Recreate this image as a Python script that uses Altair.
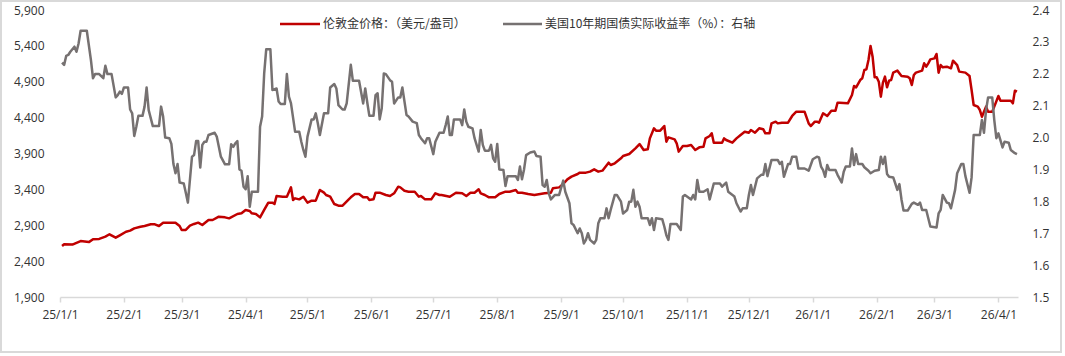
import altair as alt
import pandas as pd

# ---------------- data ----------------
GOLD = [
    ("2025-01-02", 2611), ("2025-01-03", 2635), ("2025-01-07", 2630), ("2025-01-11", 2680), ("2025-01-15", 2665),
    ("2025-01-17", 2704), ("2025-01-20", 2710), ("2025-01-23", 2741), ("2025-01-25", 2774), ("2025-01-28", 2727),
    ("2025-01-30", 2760),
    ("2025-02-02", 2810), ("2025-02-04", 2825), ("2025-02-06", 2857), ("2025-02-09", 2880), ("2025-02-11", 2890),
    ("2025-02-14", 2913), ("2025-02-16", 2913), ("2025-02-18", 2890), ("2025-02-20", 2936), ("2025-02-26", 2936),
    ("2025-02-28", 2890),
    ("2025-03-01", 2834), ("2025-03-03", 2834), ("2025-03-05", 2894), ("2025-03-07", 2918), ("2025-03-09", 2936),
    ("2025-03-11", 2903), ("2025-03-14", 2973), ("2025-03-16", 2973), ("2025-03-19", 3020), ("2025-03-22", 3010),
    ("2025-03-24", 2996), ("2025-03-28", 3057), ("2025-03-30", 3066),
    ("2025-04-01", 3113), ("2025-04-03", 3099), ("2025-04-04", 3066), ("2025-04-06", 3057), ("2025-04-08", 3010),
    ("2025-04-10", 3113), ("2025-04-12", 3215), ("2025-04-14", 3215), ("2025-04-15", 3196), ("2025-04-16", 3308),
    ("2025-04-19", 3298), ("2025-04-21", 3298), ("2025-04-23", 3428), ("2025-04-24", 3252), ("2025-04-25", 3275),
    ("2025-04-27", 3261), ("2025-04-29", 3298),
    ("2025-05-01", 3215), ("2025-05-03", 3243), ("2025-05-05", 3243), ("2025-05-07", 3391), ("2025-05-09", 3354),
    ("2025-05-10", 3322), ("2025-05-12", 3298), ("2025-05-14", 3196), ("2025-05-16", 3173), ("2025-05-18", 3173),
    ("2025-05-21", 3261), ("2025-05-22", 3289), ("2025-05-24", 3336), ("2025-05-26", 3336), ("2025-05-28", 3289),
    ("2025-05-30", 3289), ("2025-05-31", 3252),
    ("2025-06-02", 3261), ("2025-06-03", 3354), ("2025-06-05", 3354), ("2025-06-08", 3322), ("2025-06-10", 3308),
    ("2025-06-12", 3345), ("2025-06-14", 3438), ("2025-06-15", 3428), ("2025-06-17", 3382), ("2025-06-19", 3368),
    ("2025-06-22", 3368), ("2025-06-24", 3298), ("2025-06-25", 3308), ("2025-06-27", 3261), ("2025-06-30", 3261),
    ("2025-07-02", 3345), ("2025-07-04", 3322), ("2025-07-05", 3322), ("2025-07-09", 3298), ("2025-07-12", 3354),
    ("2025-07-15", 3345), ("2025-07-17", 3308), ("2025-07-19", 3354), ("2025-07-21", 3354), ("2025-07-23", 3401),
    ("2025-07-24", 3345), ("2025-07-26", 3322), ("2025-07-28", 3289), ("2025-07-31", 3289),
    ("2025-08-02", 3336), ("2025-08-05", 3368), ("2025-08-07", 3368), ("2025-08-10", 3391), ("2025-08-11", 3354),
    ("2025-08-13", 3354), ("2025-08-16", 3336), ("2025-08-19", 3322), ("2025-08-24", 3345), ("2025-08-27", 3354),
    ("2025-08-28", 3415), ("2025-08-31", 3428),
    ("2025-09-02", 3475), ("2025-09-04", 3540), ("2025-09-06", 3577), ("2025-09-09", 3614), ("2025-09-10", 3633),
    ("2025-09-13", 3633), ("2025-09-15", 3647), ("2025-09-17", 3679), ("2025-09-19", 3647), ("2025-09-21", 3661),
    ("2025-09-24", 3772), ("2025-09-25", 3740), ("2025-09-27", 3763), ("2025-09-30", 3833),
    ("2025-10-01", 3865), ("2025-10-04", 3893), ("2025-10-07", 3972), ("2025-10-09", 4032), ("2025-10-11", 3949),
    ("2025-10-13", 3958), ("2025-10-14", 4111), ("2025-10-16", 4251), ("2025-10-17", 4218), ("2025-10-19", 4218),
    ("2025-10-20", 4251), ("2025-10-21", 4283), ("2025-10-22", 4065), ("2025-10-23", 4125), ("2025-10-26", 4097),
    ("2025-10-27", 4042), ("2025-10-28", 3926), ("2025-10-30", 4005),
    ("2025-11-01", 4005), ("2025-11-03", 4018), ("2025-11-05", 3949), ("2025-11-07", 3986), ("2025-11-09", 3995),
    ("2025-11-10", 4111), ("2025-11-12", 4144), ("2025-11-13", 4181), ("2025-11-14", 4051), ("2025-11-18", 4051),
    ("2025-11-19", 4111), ("2025-11-20", 4088), ("2025-11-23", 4051), ("2025-11-25", 4111), ("2025-11-27", 4158),
    ("2025-11-29", 4204),
    ("2025-12-01", 4190), ("2025-12-02", 4227), ("2025-12-04", 4190), ("2025-12-06", 4251), ("2025-12-08", 4237),
    ("2025-12-09", 4181), ("2025-12-11", 4181), ("2025-12-12", 4320), ("2025-12-14", 4344), ("2025-12-15", 4320),
    ("2025-12-17", 4330), ("2025-12-20", 4330), ("2025-12-22", 4423), ("2025-12-24", 4483), ("2025-12-28", 4483),
    ("2025-12-30", 4320), ("2025-12-31", 4283),
    ("2026-01-02", 4344), ("2026-01-03", 4344), ("2026-01-04", 4330), ("2026-01-06", 4460), ("2026-01-08", 4423),
    ("2026-01-10", 4497), ("2026-01-12", 4497), ("2026-01-13", 4608), ("2026-01-14", 4608), ("2026-01-18", 4599),
    ("2026-01-20", 4715), ("2026-01-21", 4841), ("2026-01-22", 4822), ("2026-01-24", 4924), ("2026-01-25", 4948),
    ("2026-01-26", 5064), ("2026-01-27", 5073), ("2026-01-28", 5203), ("2026-01-29", 5398), ("2026-01-30", 5250),
    ("2026-01-31", 4962),
    ("2026-02-01", 4962), ("2026-02-02", 4901), ("2026-02-03", 4692), ("2026-02-04", 4887), ("2026-02-05", 4971),
    ("2026-02-06", 4822), ("2026-02-07", 4915), ("2026-02-08", 4924), ("2026-02-09", 5027), ("2026-02-11", 5055),
    ("2026-02-13", 4980), ("2026-02-16", 4971), ("2026-02-17", 4948), ("2026-02-18", 4855), ("2026-02-19", 4994),
    ("2026-02-20", 5027), ("2026-02-23", 5055), ("2026-02-24", 5157), ("2026-02-25", 5110), ("2026-02-26", 5157),
    ("2026-02-27", 5212),
    ("2026-03-01", 5226), ("2026-03-02", 5287), ("2026-03-03", 5027), ("2026-03-04", 5133), ("2026-03-05", 5101),
    ("2026-03-07", 5110), ("2026-03-09", 5087), ("2026-03-10", 5194), ("2026-03-12", 5133), ("2026-03-13", 5041),
    ("2026-03-16", 5027), ("2026-03-18", 4980), ("2026-03-19", 4785), ("2026-03-20", 4576), ("2026-03-22", 4553),
    ("2026-03-23", 4506), ("2026-03-24", 4413), ("2026-03-26", 4553), ("2026-03-27", 4483), ("2026-03-29", 4483),
    ("2026-03-30", 4553),
    ("2026-04-01", 4701), ("2026-04-02", 4636), ("2026-04-05", 4636), ("2026-04-07", 4636), ("2026-04-08", 4599),
    ("2026-04-09", 4776), ("2026-04-10", 4762),
]

RATE = [
    ("2025-01-02", 2.235), ("2025-01-03", 2.228), ("2025-01-04", 2.256), ("2025-01-05", 2.259), ("2025-01-06", 2.269),
    ("2025-01-08", 2.285), ("2025-01-09", 2.269), ("2025-01-10", 2.295), ("2025-01-11", 2.335), ("2025-01-14", 2.335),
    ("2025-01-16", 2.243), ("2025-01-17", 2.186), ("2025-01-18", 2.199), ("2025-01-20", 2.199), ("2025-01-22", 2.186),
    ("2025-01-23", 2.225), ("2025-01-24", 2.199), ("2025-01-26", 2.199), ("2025-01-28", 2.126), ("2025-01-29", 2.133),
    ("2025-01-30", 2.144), ("2025-01-31", 2.137),
    ("2025-02-01", 2.157), ("2025-02-03", 2.157), ("2025-02-04", 2.088), ("2025-02-05", 2.076), ("2025-02-06", 2.005),
    ("2025-02-07", 2.034), ("2025-02-08", 2.068), ("2025-02-10", 2.068), ("2025-02-11", 2.097), ("2025-02-12", 2.157),
    ("2025-02-13", 2.086), ("2025-02-15", 2.036), ("2025-02-18", 2.036), ("2025-02-19", 2.097), ("2025-02-20", 2.066),
    ("2025-02-21", 2.000), ("2025-02-23", 1.998), ("2025-02-24", 1.980), ("2025-02-25", 1.917), ("2025-02-26", 1.888),
    ("2025-02-27", 1.917), ("2025-02-28", 1.859),
    ("2025-03-02", 1.856), ("2025-03-03", 1.827), ("2025-03-04", 1.796), ("2025-03-06", 1.940), ("2025-03-07", 1.945),
    ("2025-03-08", 1.989), ("2025-03-09", 1.989), ("2025-03-10", 1.906), ("2025-03-11", 1.977), ("2025-03-12", 1.987),
    ("2025-03-13", 1.987), ("2025-03-14", 2.008), ("2025-03-17", 2.015), ("2025-03-18", 2.003), ("2025-03-20", 1.940),
    ("2025-03-22", 1.916), ("2025-03-24", 1.916), ("2025-03-25", 1.979), ("2025-03-26", 1.971), ("2025-03-27", 1.982),
    ("2025-03-28", 1.989), ("2025-03-29", 1.900), ("2025-03-30", 1.896), ("2025-03-31", 1.846),
    ("2025-04-01", 1.838), ("2025-04-02", 1.879), ("2025-04-03", 1.783), ("2025-04-04", 1.830), ("2025-04-07", 1.830),
    ("2025-04-08", 2.034), ("2025-04-09", 2.066), ("2025-04-10", 2.201), ("2025-04-11", 2.277), ("2025-04-13", 2.277),
    ("2025-04-14", 2.149), ("2025-04-16", 2.154), ("2025-04-17", 2.113), ("2025-04-18", 2.105), ("2025-04-20", 2.105),
    ("2025-04-21", 2.199), ("2025-04-22", 2.128), ("2025-04-23", 2.107), ("2025-04-25", 2.018), ("2025-04-27", 2.018),
    ("2025-04-28", 1.987), ("2025-04-29", 1.961), ("2025-04-30", 1.940),
    ("2025-05-01", 2.003), ("2025-05-03", 2.057), ("2025-05-04", 2.057), ("2025-05-05", 2.076), ("2025-05-06", 2.045),
    ("2025-05-07", 2.008), ("2025-05-09", 2.076), ("2025-05-11", 2.076), ("2025-05-12", 2.157), ("2025-05-14", 2.168),
    ("2025-05-15", 2.154), ("2025-05-16", 2.102), ("2025-05-18", 2.088), ("2025-05-19", 2.088), ("2025-05-20", 2.107),
    ("2025-05-22", 2.228), ("2025-05-23", 2.178), ("2025-05-26", 2.178), ("2025-05-28", 2.107), ("2025-05-29", 2.154),
    ("2025-05-30", 2.109), ("2025-05-31", 2.068),
    ("2025-06-02", 2.068), ("2025-06-03", 2.133), ("2025-06-04", 2.139), ("2025-06-05", 2.057), ("2025-06-06", 2.092),
    ("2025-06-07", 2.201), ("2025-06-08", 2.199), ("2025-06-10", 2.180), ("2025-06-11", 2.175), ("2025-06-12", 2.107),
    ("2025-06-14", 2.126), ("2025-06-15", 2.126), ("2025-06-16", 2.157), ("2025-06-18", 2.071), ("2025-06-19", 2.066),
    ("2025-06-21", 2.050), ("2025-06-23", 2.045), ("2025-06-24", 2.008), ("2025-06-25", 1.998), ("2025-06-27", 1.982),
    ("2025-06-28", 1.998), ("2025-06-29", 1.998),
    ("2025-07-01", 1.948), ("2025-07-02", 1.987), ("2025-07-04", 2.015), ("2025-07-06", 2.015), ("2025-07-07", 2.039),
    ("2025-07-08", 2.066), ("2025-07-09", 2.008), ("2025-07-10", 2.008), ("2025-07-11", 2.057), ("2025-07-14", 2.057),
    ("2025-07-15", 2.039), ("2025-07-16", 2.088), ("2025-07-17", 2.050), ("2025-07-18", 2.034), ("2025-07-20", 2.029),
    ("2025-07-21", 1.998), ("2025-07-23", 1.956), ("2025-07-24", 2.024), ("2025-07-25", 1.977), ("2025-07-26", 1.959),
    ("2025-07-28", 1.959), ("2025-07-29", 1.977), ("2025-07-30", 1.935), ("2025-07-31", 1.924),
    ("2025-08-01", 1.980), ("2025-08-02", 1.900), ("2025-08-04", 1.898), ("2025-08-05", 1.848), ("2025-08-06", 1.879),
    ("2025-08-10", 1.879), ("2025-08-11", 1.867), ("2025-08-12", 1.909), ("2025-08-13", 1.869), ("2025-08-14", 1.900),
    ("2025-08-15", 1.945), ("2025-08-17", 1.953), ("2025-08-19", 1.956), ("2025-08-20", 1.942), ("2025-08-22", 1.940),
    ("2025-08-23", 1.851), ("2025-08-24", 1.846), ("2025-08-25", 1.867), ("2025-08-26", 1.825), ("2025-08-27", 1.806),
    ("2025-08-29", 1.820), ("2025-08-31", 1.820),
    ("2025-09-02", 1.865), ("2025-09-03", 1.830), ("2025-09-05", 1.794), ("2025-09-06", 1.731), ("2025-09-07", 1.726),
    ("2025-09-09", 1.700), ("2025-09-10", 1.715), ("2025-09-11", 1.700), ("2025-09-12", 1.668), ("2025-09-13", 1.679),
    ("2025-09-14", 1.700), ("2025-09-15", 1.679), ("2025-09-17", 1.668), ("2025-09-18", 1.679), ("2025-09-19", 1.731),
    ("2025-09-20", 1.747), ("2025-09-22", 1.747), ("2025-09-23", 1.778), ("2025-09-24", 1.747), ("2025-09-25", 1.773),
    ("2025-09-27", 1.820), ("2025-09-28", 1.820), ("2025-09-30", 1.799),
    ("2025-10-01", 1.762), ("2025-10-03", 1.773), ("2025-10-04", 1.799), ("2025-10-05", 1.799), ("2025-10-06", 1.836),
    ("2025-10-07", 1.783), ("2025-10-08", 1.799), ("2025-10-09", 1.783), ("2025-10-10", 1.747), ("2025-10-13", 1.747),
    ("2025-10-14", 1.726), ("2025-10-15", 1.747), ("2025-10-16", 1.710), ("2025-10-17", 1.747), ("2025-10-20", 1.744),
    ("2025-10-21", 1.721), ("2025-10-22", 1.694), ("2025-10-23", 1.679), ("2025-10-24", 1.729), ("2025-10-27", 1.729),
    ("2025-10-29", 1.710), ("2025-10-30", 1.815), ("2025-10-31", 1.820),
    ("2025-11-03", 1.806), ("2025-11-04", 1.820), ("2025-11-05", 1.806), ("2025-11-06", 1.867), ("2025-11-07", 1.830),
    ("2025-11-09", 1.830), ("2025-11-11", 1.838), ("2025-11-12", 1.806), ("2025-11-14", 1.856), ("2025-11-17", 1.856),
    ("2025-11-18", 1.846), ("2025-11-20", 1.859), ("2025-11-21", 1.830), ("2025-11-24", 1.815), ("2025-11-25", 1.794),
    ("2025-11-27", 1.768), ("2025-11-28", 1.778), ("2025-11-30", 1.778),
    ("2025-12-01", 1.820), ("2025-12-02", 1.851), ("2025-12-03", 1.820), ("2025-12-05", 1.872), ("2025-12-07", 1.883),
    ("2025-12-08", 1.883), ("2025-12-09", 1.917), ("2025-12-10", 1.879), ("2025-12-12", 1.930), ("2025-12-15", 1.930),
    ("2025-12-16", 1.917), ("2025-12-17", 1.924), ("2025-12-18", 1.877), ("2025-12-20", 1.917), ("2025-12-21", 1.917),
    ("2025-12-22", 1.940), ("2025-12-24", 1.940), ("2025-12-25", 1.903), ("2025-12-28", 1.903), ("2025-12-30", 1.896),
    ("2026-01-01", 1.932), ("2026-01-03", 1.940), ("2026-01-04", 1.938), ("2026-01-05", 1.909), ("2026-01-06", 1.898),
    ("2026-01-07", 1.877), ("2026-01-08", 1.914), ("2026-01-09", 1.898), ("2026-01-12", 1.898), ("2026-01-13", 1.883),
    ("2026-01-15", 1.859), ("2026-01-16", 1.893), ("2026-01-17", 1.909), ("2026-01-19", 1.909), ("2026-01-20", 1.966),
    ("2026-01-21", 1.914), ("2026-01-22", 1.948), ("2026-01-23", 1.917), ("2026-01-25", 1.917), ("2026-01-26", 1.907),
    ("2026-01-28", 1.896), ("2026-01-29", 1.888), ("2026-01-31", 1.896),
    ("2026-02-02", 1.898), ("2026-02-03", 1.940), ("2026-02-04", 1.917), ("2026-02-05", 1.940), ("2026-02-06", 1.886),
    ("2026-02-07", 1.877), ("2026-02-09", 1.875), ("2026-02-10", 1.856), ("2026-02-11", 1.836), ("2026-02-12", 1.854),
    ("2026-02-13", 1.806), ("2026-02-14", 1.771), ("2026-02-16", 1.771), ("2026-02-18", 1.792), ("2026-02-19", 1.796),
    ("2026-02-21", 1.789), ("2026-02-22", 1.796), ("2026-02-23", 1.773), ("2026-02-25", 1.773), ("2026-02-26", 1.747),
    ("2026-02-27", 1.721),
    ("2026-03-02", 1.718), ("2026-03-03", 1.762), ("2026-03-04", 1.773), ("2026-03-05", 1.820), ("2026-03-07", 1.796),
    ("2026-03-08", 1.794), ("2026-03-09", 1.778), ("2026-03-11", 1.836), ("2026-03-12", 1.888), ("2026-03-14", 1.917),
    ("2026-03-15", 1.917), ("2026-03-16", 1.879), ("2026-03-18", 1.827), ("2026-03-19", 1.875), ("2026-03-20", 2.008),
    ("2026-03-23", 2.008), ("2026-03-24", 2.055), ("2026-03-25", 2.015), ("2026-03-26", 2.086), ("2026-03-27", 2.126),
    ("2026-03-29", 2.126), ("2026-03-30", 2.055), ("2026-03-31", 1.998),
    ("2026-04-01", 2.013), ("2026-04-03", 1.969), ("2026-04-04", 1.987), ("2026-04-06", 1.984), ("2026-04-07", 1.961),
    ("2026-04-09", 1.951), ("2026-04-10", 1.948),
]

LEFT_TICKS = [1900, 2400, 2900, 3400, 3900, 4400, 4900, 5400, 5900]
RIGHT_TICKS = [1.5, 1.6, 1.7, 1.8, 1.9, 2.0, 2.1, 2.2, 2.3, 2.4]
MONTH_TICKS = [(2025, m) for m in range(1, 13)] + [(2026, m) for m in range(1, 5)]
SERIES_NAMES = ["伦敦金价格：（美元/盎司）", "美国10年期国债实际收益率（%）：右轴"]
COLORS = ["#C00000", "#767171"]

# ---------------- build chart ----------------
gold_df = pd.DataFrame(GOLD, columns=["date", "value"])
rate_df = pd.DataFrame(RATE, columns=["date", "value"])

LABEL_FONT = "Open Sans"
LABEL_COLOR = "#333333"
AXIS_GRAY = "#D9D9D9"

x_scale = alt.Scale(
    type="utc",
    domain=[alt.DateTime(year=2025, month=1, date=1, utc=True),
            alt.DateTime(year=2026, month=4, date=10, hours=12, utc=True)],
)
x_axis = alt.Axis(
    values=[alt.DateTime(year=y, month=m, date=1, utc=True) for y, m in MONTH_TICKS],
    format="%y/%-m/%-d", title=None, grid=False,
    labelFont=LABEL_FONT, labelFontSize=12, labelColor=LABEL_COLOR,
    domainColor=AXIS_GRAY, domainWidth=1.5, tickColor=AXIS_GRAY, tickWidth=1.5, tickSize=5,
    labelPadding=7, labelFlush=False, labelOverlap=False,
)
x_enc = alt.X("date:T", scale=x_scale, axis=x_axis)

gold_line = alt.Chart(gold_df).mark_line(color=COLORS[0], strokeWidth=2.5, strokeJoin="round").encode(
    x=x_enc,
    y=alt.Y("value:Q",
            scale=alt.Scale(domain=[1900, 5900], nice=False, zero=False),
            axis=alt.Axis(orient="left", values=LEFT_TICKS, format=",.0f", title=None, grid=False,
                          domain=False, ticks=False, tickSize=0, labelPadding=16,
                          labelFont=LABEL_FONT, labelFontSize=12, labelColor=LABEL_COLOR)),
)

rate_line = alt.Chart(rate_df).mark_line(color=COLORS[1], strokeWidth=2.5, strokeJoin="round").encode(
    x=x_enc,
    y=alt.Y("value:Q",
            scale=alt.Scale(domain=[1.5, 2.4], nice=False, zero=False),
            axis=alt.Axis(orient="right", values=RIGHT_TICKS, format=".1f", title=None, grid=False,
                          domain=False, ticks=False, tickSize=0, labelPadding=14,
                          labelFont=LABEL_FONT, labelFontSize=12, labelColor=LABEL_COLOR)),
)

one = pd.DataFrame({"k": [0]})

# legend (drawn manually, top centre)
leg_red_line = alt.Chart(one).mark_rule(color=COLORS[0], strokeWidth=2.5).encode(
    x=alt.value(220), x2=alt.value(260), y=alt.value(14))
leg_red_text = alt.Chart(one).mark_text(
    align="left", baseline="middle", font="Noto Sans CJK SC", fontSize=12, color=LABEL_COLOR
).encode(x=alt.value(263), y=alt.value(14), text=alt.value(SERIES_NAMES[0]))
leg_gray_line = alt.Chart(one).mark_rule(color=COLORS[1], strokeWidth=2.5).encode(
    x=alt.value(443), x2=alt.value(482), y=alt.value(14))
leg_gray_text = alt.Chart(one).mark_text(
    align="left", baseline="middle", font="Noto Sans CJK SC", fontSize=12, color=LABEL_COLOR
).encode(x=alt.value(485), y=alt.value(14), text=alt.value(SERIES_NAMES[1]))

# outer frame of the chart
frame = alt.Chart(one).mark_rect(filled=False, stroke=AXIS_GRAY, strokeWidth=2).encode(
    x=alt.value(-59), x2=alt.value(1001), y=alt.value(-9), y2=alt.value(342))

chart = alt.layer(
    frame, gold_line, rate_line, leg_red_line, leg_red_text, leg_gray_line, leg_gray_text
).resolve_scale(y="independent").properties(
    width=958, height=287,
    autosize=alt.AutoSizeParams(type="none"),
    padding={"left": 60, "top": 10, "right": 47, "bottom": 59},
    background="white",
).configure_view(stroke=None)

chart.save("out.html", embed_options={"renderer": "svg", "actions": False})
